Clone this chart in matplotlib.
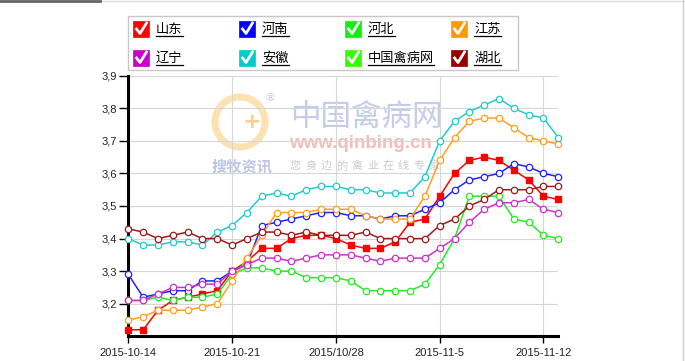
import matplotlib
matplotlib.use("Agg")
import matplotlib.pyplot as plt
from matplotlib.lines import Line2D
from matplotlib.patches import Rectangle, Ellipse

# ---- data (one value per day/slot) ----
tick_pos = [0, 7, 14, 21, 28]
tick_labels = ["2015-10-14", "2015-10-21", "2015/10/28", "2015-11-5", "2015-11-12"]

shandong = [3.12, 3.12, 3.18, 3.21, 3.22, 3.23, 3.24, 3.30, 3.33, 3.37, 3.37, 3.40, 3.41, 3.41, 3.40,
            3.38, 3.37, 3.37, 3.39, 3.45, 3.46, 3.53, 3.60, 3.64, 3.65, 3.64, 3.61, 3.58, 3.53, 3.52]
henan = [3.29, 3.22, 3.23, 3.24, 3.24, 3.27, 3.27, 3.30, 3.32, 3.44, 3.45, 3.46, 3.47, 3.48, 3.48,
         3.47, 3.47, 3.46, 3.47, 3.47, 3.49, 3.51, 3.55, 3.58, 3.59, 3.60, 3.63, 3.62, 3.60, 3.59]
hebei = [3.21, 3.21, 3.22, 3.21, 3.22, 3.22, 3.23, 3.29, 3.31, 3.31, 3.30, 3.30, 3.28, 3.28, 3.28,
         3.27, 3.24, 3.24, 3.24, 3.24, 3.26, 3.32, 3.40, 3.53, 3.53, 3.53, 3.46, 3.45, 3.41, 3.40]
jiangsu = [3.15, 3.16, 3.18, 3.18, 3.18, 3.19, 3.20, 3.27, 3.34, 3.41, 3.48, 3.48, 3.48, 3.49, 3.49,
           3.49, 3.47, 3.46, 3.46, 3.46, 3.53, 3.64, 3.71, 3.76, 3.77, 3.77, 3.74, 3.71, 3.70, 3.69]
liaoning = [3.21, 3.21, 3.23, 3.25, 3.25, 3.26, 3.26, 3.30, 3.32, 3.34, 3.34, 3.33, 3.34, 3.35, 3.35,
            3.35, 3.34, 3.33, 3.34, 3.34, 3.34, 3.37, 3.40, 3.45, 3.49, 3.51, 3.51, 3.52, 3.49, 3.48]
anhui = [3.40, 3.38, 3.38, 3.39, 3.39, 3.38, 3.42, 3.44, 3.48, 3.53, 3.54, 3.53, 3.55, 3.56, 3.56,
         3.55, 3.55, 3.54, 3.54, 3.54, 3.59, 3.70, 3.76, 3.79, 3.81, 3.83, 3.80, 3.78, 3.77, 3.71]
qinbing = []  # legend only, no line visible
hubei = [3.43, 3.42, 3.40, 3.41, 3.42, 3.40, 3.40, 3.38, 3.40, 3.42, 3.42, 3.41, 3.42, 3.41, 3.41,
         3.41, 3.42, 3.40, 3.40, 3.40, 3.40, 3.44, 3.46, 3.50, 3.52, 3.55, 3.55, 3.55, 3.56, 3.56]

names = ["山东", "河南", "河北", "江苏", "辽宁", "安徽", "中国禽病网", "湖北"]
series = [shandong, henan, hebei, jiangsu, liaoning, anhui, qinbing, hubei]
box_colors = ["#ff0000", "#0000ff", "#11ee11", "#ff9900", "#cc00cc", "#00cccc", "#33ff00", "#990000"]
line_colors = ["#ff0000", "#2222ff", "#22ee22", "#ffa020", "#cc33cc", "#22cccc", "#33ff00", "#a01818"]

W, H = 685, 361
CJK = ["Noto Sans CJK SC", "DejaVu Sans"]


def px(x, y):
    return x / W, 1 - y / H


fig = plt.figure(figsize=(W / 100, H / 100), dpi=100)
fig.patch.set_facecolor("white")

ax = fig.add_axes([128.3 / W, 1 - 336.3 / H, (558.3 - 128.3) / W, (336.3 - 75.7) / H])
ax.patch.set_alpha(0)

# watermark (behind the axes)
wm = dict(zorder=-1, transform=fig.transFigure)
fig.text(*px(290, 117), "中国禽病网", fontsize=22, color="#c2cdec", family=CJK, va="center", **wm)
fig.text(*px(289, 143), "www.qinbing.cn", fontsize=13.5, color="#f4bcbc", fontweight="bold",
         family="Liberation Sans", va="center", **wm)
fig.text(*px(212, 166), "搜牧资讯", fontsize=11, color="#bcc6e6", fontweight="bold", family=CJK,
         va="center", **wm)
for k, ch in enumerate("您身边的禽业在线专家"):
    fig.text(*px(290 + k * 15.4, 166), ch, fontsize=8, color="#cbcbcb", family=CJK, va="center", **wm)
fig.text(*px(270, 98), "®", fontsize=8, color="#c8c8c8", ha="center", va="center", **wm)
fig.patches.append(Ellipse(px(240, 122), 50 / W, 50 / H, transform=fig.transFigure, fill=False,
                           ec="#fbe2b0", lw=5, zorder=-1))
fig.text(*px(252, 122), "+", fontsize=16, color="#f8d090", fontweight="bold", ha="center",
         va="center", **wm)

# lines
x = list(range(30))
for name, vals, c in zip(names, series, line_colors):
    if not vals:
        continue
    if name == "山东":
        ax.plot(x, vals, color=c, lw=1.1, marker="s", ms=4.6, mfc=c, mec=c, clip_on=False, zorder=3)
    else:
        ax.plot(x, vals, color=c, lw=1.1, marker="o", ms=4.6, mfc="white", mec=c, mew=0.9,
                clip_on=False, zorder=3)

ax.set_xlim(0, 29)
ax.set_ylim(3.1, 3.9)
ax.set_xticks(tick_pos)
ax.set_xticklabels(tick_labels)
yt = [3.2, 3.3, 3.4, 3.5, 3.6, 3.7, 3.8, 3.9]
ax.set_yticks(yt)
ax.set_yticklabels([f"{v:.1f}".replace(".", ",") for v in yt])
ax.grid(True, color="#d6d6d6", lw=0.8, zorder=0)
ax.set_axisbelow(True)
for s in ["top", "right"]:
    ax.spines[s].set_visible(False)
for s in ["left", "bottom"]:
    ax.spines[s].set_linewidth(2.2)
    ax.spines[s].set_color("black")
ax.tick_params(axis="y", direction="out", length=6.5, width=1, pad=1.5, labelsize=8, labelcolor="#222222")
ax.tick_params(axis="x", direction="out", length=5, width=1, pad=3.5, labelsize=8, labelcolor="#222222")
for lab in ax.get_xticklabels() + ax.get_yticklabels():
    lab.set_family("Liberation Sans")

# legend with check boxes
fig.patches.append(Rectangle(px(128, 70), 390 / W, 54 / H, transform=fig.transFigure, fill=False,
                             ec="#c8c8c8", lw=1))
col_x = [133, 239, 345, 451]
row_y = [21, 50]
renderer = fig.canvas.get_renderer()
for k, (name, c) in enumerate(zip(names, box_colors)):
    bx, by = col_x[k % 4], row_y[k // 4]
    fig.patches.append(Rectangle(px(bx, by + 16), 16 / W, 16 / H, transform=fig.transFigure,
                                 fc=c, ec=c, lw=0.5))
    cx = [bx + 3.5, bx + 7, bx + 13.5]
    cy = [by + 8, by + 12.5, by + 2]
    fig.add_artist(Line2D([v / W for v in cx], [1 - v / H for v in cy], color="white", lw=2,
                          transform=fig.transFigure))
    t = fig.text(*px(bx + 23, by + 8), name, fontsize=9.5, color="black", family=CJK, va="center")
    bb = t.get_window_extent(renderer)
    uy = by + 14.5
    fig.add_artist(Line2D([bb.x0 / W, bb.x1 / W], [1 - uy / H] * 2, color="black", lw=0.9,
                          transform=fig.transFigure))

# frame bits of the page
fig.add_artist(Line2D([0, 1], [1 - 1 / H] * 2, color="#dcdcdc", lw=1, transform=fig.transFigure))
fig.add_artist(Line2D([0, 100 / W], [1 - 1 / H] * 2, color="#666666", lw=2, transform=fig.transFigure))
fig.add_artist(Line2D([683 / W] * 2, [0, 1], color="#d0d0d0", lw=1, transform=fig.transFigure))

fig.savefig("out.png", dpi=100)
